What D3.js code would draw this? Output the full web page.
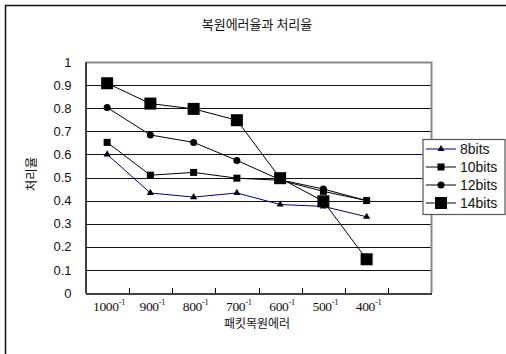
<!DOCTYPE html>
<html><head><meta charset="utf-8">
<script src="https://cdn.jsdelivr.net/npm/d3@7"></script>
<style>body{margin:0;background:#fff}svg{display:block}</style>
</head><body>
<svg id="c" width="506" height="354"></svg>
<script>
const categories = ["1000", "900", "800", "700", "600", "500", "400", ""];
const yTicks = [0, 0.1, 0.2, 0.3, 0.4, 0.5, 0.6, 0.7, 0.8, 0.9, 1];
const bits8  = [0.60, 0.433, 0.415, 0.433, 0.383, 0.375, 0.33];
const bits10 = [0.652, 0.51, 0.522, 0.497, 0.488, 0.44, 0.40];
const bits12 = [0.803, 0.684, 0.652, 0.574, 0.49, 0.45, 0.40];
const bits14 = [0.908, 0.82, 0.797, 0.748, 0.497, 0.397, 0.146];
const seriesNames = ["8bits", "10bits", "12bits", "14bits"];
const title = "복원에러율과 처리율";
const yTitle = "처리율";
const xTitle = "패킷목원에러";

const series = [
  {name: seriesNames[0], values: bits8, color: "#000080", marker: "tri", size: 7},
  {name: seriesNames[1], values: bits10, color: "#000", marker: "sq", size: 7},
  {name: seriesNames[2], values: bits12, color: "#000", marker: "circ", size: 7},
  {name: seriesNames[3], values: bits14, color: "#000", marker: "sq", size: 12}
];

const svg = d3.select("#c");
const L = 85.5, R = 431.5, T = 62, B = 293;
const x = d3.scaleBand().domain(categories).range([L, R]);
const y = d3.scaleLinear().domain([0, 1]).range([B, T]);

svg.append("rect").attr("x", 5.5).attr("y", 5.5).attr("width", 540).attr("height", 400)
  .attr("fill", "none").attr("stroke", "#111").attr("stroke-width", 1.5);

svg.append("text").attr("x", 257).attr("y", 29).attr("text-anchor", "middle")
  .attr("font-family", "Noto Sans CJK KR").attr("font-size", 13).attr("fill", "#111").text(title);

svg.append("g").selectAll("line").data(yTicks.filter(d => d > 0 && d < 1)).join("line")
  .attr("x1", L).attr("x2", R).attr("y1", d => Math.round(y(d)) + 0.5).attr("y2", d => Math.round(y(d)) + 0.5)
  .attr("stroke", "#111").attr("stroke-width", 1.2);

svg.append("path").attr("d", `M${L},${T + 0.5}H${R}V${B}`).attr("fill", "none")
  .attr("stroke", "#888").attr("stroke-width", 2);

const yAxis = d3.axisLeft(y).tickValues(yTicks).tickSize(0).tickPadding(14)
  .tickFormat(d => d3.format("")(d));
const yg = svg.append("g").attr("transform", `translate(${L},0)`).call(yAxis);
yg.select(".domain").attr("stroke", "#000").attr("stroke-width", 1.5);
yg.selectAll("text").attr("font-family", "Liberation Sans").attr("font-size", 13).attr("fill", "#111");

const xAxis = d3.axisBottom(x).tickSize(0).tickFormat("");
const xg = svg.append("g").attr("transform", `translate(0,${B + 0.5})`).call(xAxis);
xg.select(".domain").attr("stroke", "#000").attr("stroke-width", 1.5);
xg.selectAll(".tick").remove();
const bounds = categories.slice(1).map(c => x(c));
svg.append("g").selectAll("line").data(bounds).join("line")
  .attr("x1", d => Math.round(d) + 0.5).attr("x2", d => Math.round(d) + 0.5)
  .attr("y1", B - 5).attr("y2", B).attr("stroke", "#000");

const lab = svg.append("g").selectAll("text").data(categories.filter(c => c !== "")).join("text")
  .attr("x", d => x(d) + x.bandwidth() / 2 + 2).attr("y", 311)
  .attr("text-anchor", "middle").attr("font-family", "Liberation Serif").attr("font-size", 13.5)
  .attr("letter-spacing", -0.3).attr("fill", "#111");
lab.append("tspan").text(d => d);
lab.append("tspan").attr("dy", -6).attr("font-size", 8.5).text("-1");

svg.append("text").attr("x", 257).attr("y", 328).attr("text-anchor", "middle")
  .attr("font-family", "Noto Sans CJK KR").attr("font-size", 12).attr("fill", "#111").text(xTitle);
svg.append("text").attr("transform", "translate(36,174) rotate(-90)").attr("text-anchor", "middle")
  .attr("font-family", "Noto Sans CJK KR").attr("font-size", 12.5).attr("fill", "#111").text(yTitle);

function drawMarker(g, type, size) {
  if (type === "tri") {
    g.append("path").attr("d", d3.symbol(d3.symbolTriangle, size * size * 0.45)()).attr("fill", "#000");
  } else if (type === "sq") {
    g.append("rect").attr("x", -size / 2).attr("y", -size / 2).attr("width", size).attr("height", size).attr("fill", "#000");
  } else {
    g.append("circle").attr("r", size / 2).attr("fill", "#000");
  }
}

const cx = (d, i) => x(categories[i]) + x.bandwidth() / 2;
const line = d3.line().x((d, i) => cx(d, i)).y(d => y(d));
series.forEach(s => {
  svg.append("path").datum(s.values).attr("d", line).attr("fill", "none")
    .attr("stroke", s.color).attr("stroke-width", 1);
});
series.forEach(s => {
  s.values.forEach((v, i) => {
    const g = svg.append("g").attr("transform", `translate(${cx(v, i)},${y(v)})`);
    drawMarker(g, s.marker, s.size);
  });
});

const lg = svg.append("g");
lg.append("rect").attr("x", 423).attr("y", 139.5).attr("width", 82).attr("height", 75)
  .attr("fill", "#fff").attr("stroke", "#555").attr("stroke-width", 1.2);
series.forEach((s, i) => {
  const yy = 149 + i * 18;
  lg.append("line").attr("x1", 426).attr("x2", 456).attr("y1", yy).attr("y2", yy)
    .attr("stroke", s.color).attr("stroke-width", 1);
  const g = lg.append("g").attr("transform", `translate(441,${yy})`);
  drawMarker(g, s.marker, s.size);
  lg.append("text").attr("x", 460).attr("y", yy + 5).attr("font-family", "Liberation Sans")
    .attr("font-size", 14).attr("fill", "#111").text(s.name);
});
</script>
</body></html>
